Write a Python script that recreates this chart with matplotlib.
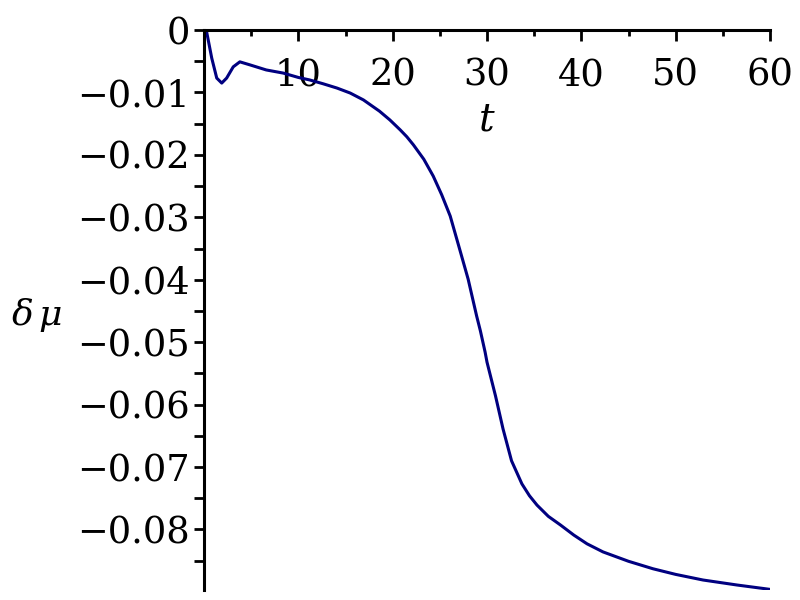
import matplotlib
matplotlib.use("Agg")
import matplotlib.pyplot as plt
from matplotlib.ticker import MultipleLocator, FixedLocator

t = [0, 0.28, 0.82, 1.35, 1.88, 2.4, 3.1, 3.8, 4.9, 6.6, 8.4, 10.0,
     11.2, 12.6, 14.1, 15.5, 16.9, 18.6, 19.7, 20.8, 21.5, 22.2, 23.3, 24.3,
     25.2, 26.1, 27.1, 28.0, 28.9, 29.3, 29.8, 30.0, 30.9, 31.7, 32.6, 33.7,
     34.5, 35.3, 36.5, 37.8, 39.2, 40.6, 42.3, 45.0, 47.6, 50.0, 52.9, 56.5, 60]
dmu = [0, -0.0003, -0.0045, -0.0077, -0.0085, -0.0077, -0.0059, -0.0051,
       -0.0056, -0.0064, -0.0069, -0.0076,
       -0.0080, -0.0086, -0.0093, -0.0101, -0.0112, -0.0130, -0.0144, -0.0160,
       -0.0171, -0.0184, -0.0207, -0.0234,
       -0.0264, -0.0298, -0.0351, -0.0399, -0.0458, -0.0482, -0.0516, -0.0532,
       -0.0586, -0.0639, -0.0690, -0.0727,
       -0.0746, -0.0761, -0.0779, -0.0793, -0.0809, -0.0823, -0.0836, -0.0851,
       -0.0863, -0.0872, -0.0881, -0.0889, -0.0896]

x_ticks = [10, 20, 30, 40, 50, 60]
y_ticks = [0, -0.01, -0.02, -0.03, -0.04, -0.05, -0.06, -0.07, -0.08]
y_tick_labels = ["0", "\u22120.01", "\u22120.02", "\u22120.03", "\u22120.04",
                 "\u22120.05", "\u22120.06", "\u22120.07", "\u22120.08"]

plt.rcParams['font.family'] = ['DejaVu Serif']
plt.rcParams['mathtext.fontset'] = 'dejavuserif'

fig = plt.figure(figsize=(8, 6), dpi=100)
ax = fig.add_axes([204/800, 1 - 590/600, (770-204)/800, (590-30)/600])

ax.plot(t, dmu, color='#000080', lw=2.2, solid_joinstyle='round')

ax.set_xlim(0, 60)
ax.set_ylim(-0.0897, 0)

ax.spines['right'].set_visible(False)
ax.spines['top'].set_visible(False)
ax.spines['bottom'].set_position(('data', 0))
ax.spines['bottom'].set_linewidth(2.2)
ax.spines['left'].set_linewidth(2.2)

ax.xaxis.set_major_locator(FixedLocator(x_ticks))
ax.xaxis.set_minor_locator(MultipleLocator(5))
ax.set_xticklabels([str(v) for v in x_ticks])
ax.yaxis.set_major_locator(FixedLocator(y_ticks))
ax.yaxis.set_minor_locator(MultipleLocator(0.005))
ax.set_yticklabels(y_tick_labels)

ax.tick_params(axis='x', which='major', direction='out', length=8, width=2,
               labelsize=26.5, pad=12)
ax.tick_params(axis='x', which='minor', direction='out', length=4.5, width=2)
ax.tick_params(axis='y', which='major', direction='out', length=7, width=2,
               labelsize=26.5, pad=3)
ax.tick_params(axis='y', which='minor', direction='out', length=7, width=2)

fig.text(487/800, 1 - 120/600, r'$t$', fontsize=28, ha='center', va='center')
fig.text(37/800, 1 - 315/600, r'$\delta\,\mu$', fontsize=26, ha='center', va='center')

fig.savefig('out.png', dpi=100)
